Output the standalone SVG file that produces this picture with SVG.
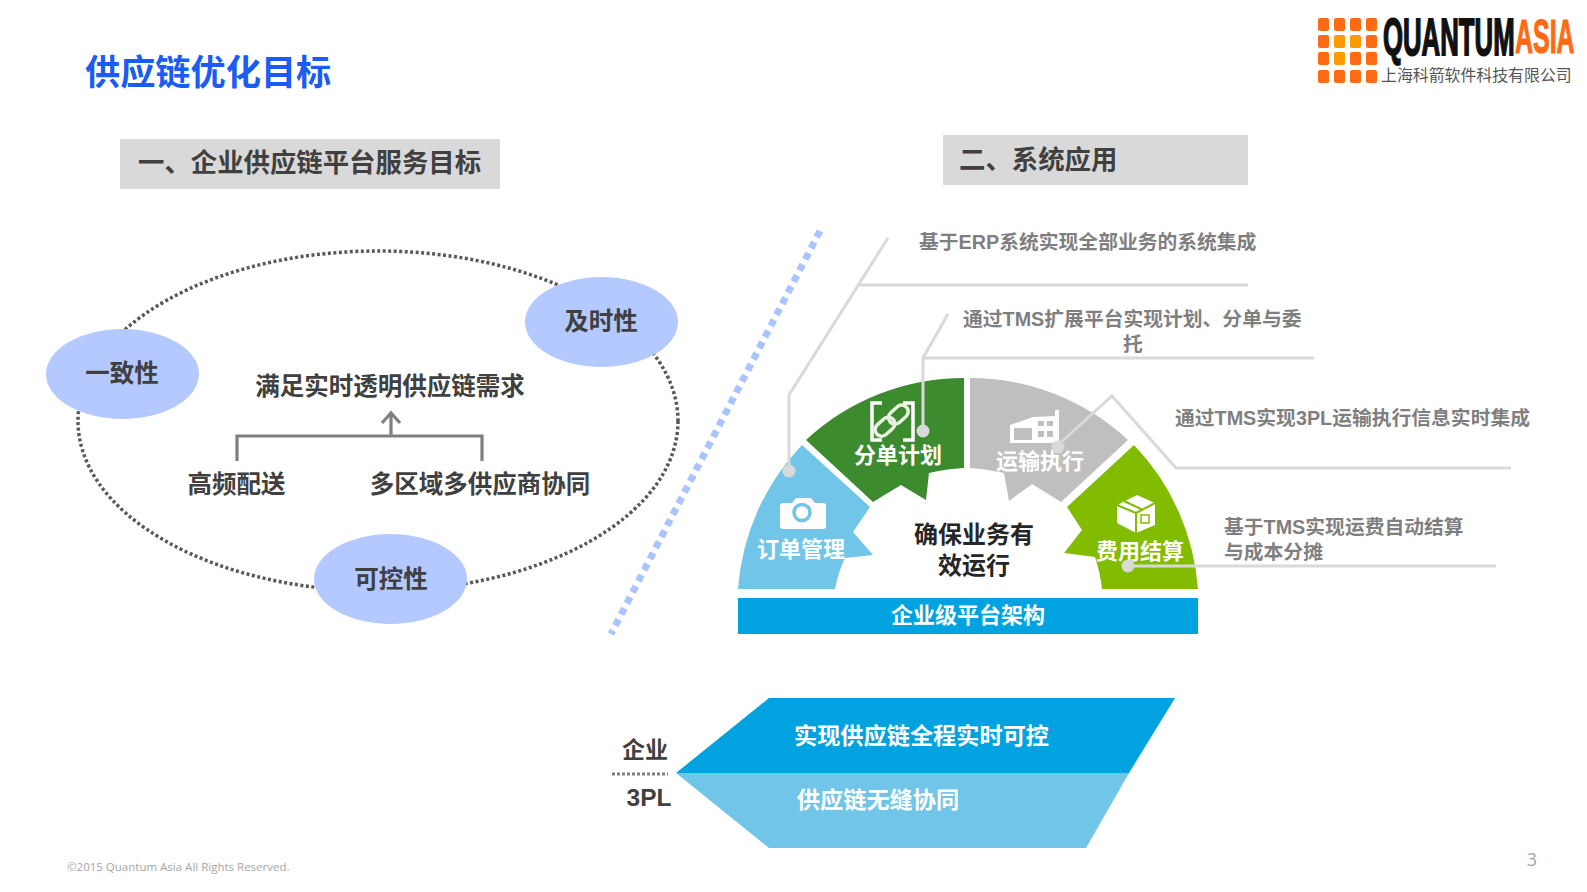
<svg xmlns="http://www.w3.org/2000/svg" width="1587" height="892" viewBox="0 0 1587 892">
<style>
text{font-family:"Liberation Sans","Noto Sans CJK SC",sans-serif;font-weight:700}
.m{text-anchor:middle}
.d{fill:#404040;font-size:24.500px}
.w{fill:#fff;font-size:22px;text-anchor:middle}
.g{fill:#7f7f7f;font-size:19.800px}
.o{fill:#b3c9ff}
.h{fill:#d9d9d9}
.l{fill:none;stroke:#d9d9d9;stroke-width:3}
.dot{fill:#d9d9d9}
.q{fill:#ff6a13}
.y{fill:#ff9a00}
</style>
<rect width="1587" height="892" fill="#fff"/>
<text x="85" y="85" fill="#1a5cf5" style="font-size:35.2px">供应链优化目标</text>
<g id="logo">
<g class="q">
<rect x="1318" y="18" width="11" height="13" rx="2"/><rect x="1334" y="18" width="11" height="13" rx="2"/><rect x="1350" y="18" width="11" height="13" rx="2"/><rect x="1366" y="18" width="11" height="13" rx="2"/>
<rect x="1318" y="35" width="11" height="13" rx="2"/><rect x="1366" y="35" width="11" height="13" rx="2"/>
<rect x="1318" y="52" width="11" height="13" rx="2"/><rect x="1350" y="52" width="11" height="13" rx="2"/><rect x="1366" y="52" width="11" height="13" rx="2"/>
<rect x="1318" y="70" width="11" height="13" rx="2"/><rect x="1334" y="70" width="11" height="13" rx="2"/><rect x="1350" y="70" width="11" height="13" rx="2"/><rect x="1366" y="70" width="11" height="13" rx="2"/>
</g>
<g class="y"><rect x="1334" y="35" width="11" height="13" rx="2"/><rect x="1350" y="35" width="11" height="13" rx="2"/><rect x="1334" y="52" width="11" height="13" rx="2"/></g>
<text transform="translate(1383 55) scale(.505 1)" fill="#111" stroke="#111" stroke-width="1.800" style="font-size:51px">QUANTUM</text>
<text transform="translate(1515 53) scale(.52 1)" fill="#ff6a13" stroke="#ff6a13" stroke-width="1.200" style="font-size:48px">ASIA</text>
<text x="1381" y="81" fill="#555" style="font-weight:400;font-size:15.900px">上海科箭软件科技有限公司</text>
</g>
<g id="header1"><rect class="h" x="120" y="139" width="380" height="50"/><text x="138" y="172" fill="#404040" style="font-size:26.400px">一、企业供应链平台服务目标</text></g>
<g id="header2"><rect class="h" x="943" y="135" width="305" height="50"/><text x="959" y="169" fill="#404040" style="font-size:26.400px">二、系统应用</text></g>

<g id="connectors">
<ellipse cx="378" cy="421" rx="300" ry="170" fill="none" stroke="#595959" stroke-width="3.500" stroke-dasharray="3 2.500"/>
<path d="M237 461V436H482V461M391 436V413M382 423L391 413L400 423" fill="none" stroke="#7f7f7f" stroke-width="3.200"/>
<path d="M820 231L611 634" fill="none" stroke="#a9c4ff" stroke-width="7" stroke-dasharray="7 5.500"/>
<path d="M612 774H668" fill="none" stroke="#7f7f7f" stroke-width="3" stroke-dasharray="3 2"/>
</g>

<g id="node-consistency"><ellipse class="o" cx="122.500" cy="374" rx="76.500" ry="45"/><text class="d m" x="122" y="382">一致性</text></g>
<g id="node-timely"><ellipse class="o" cx="601.500" cy="322" rx="76.500" ry="45"/><text class="d m" x="601" y="330">及时性</text></g>
<g id="node-control"><ellipse class="o" cx="390.500" cy="579" rx="76.500" ry="45"/><text class="d m" x="391" y="588">可控性</text></g>
<text class="d m" x="390" y="394.500">满足实时透明供应链需求</text>
<text class="d m" x="236.500" y="493">高频配送</text>
<text class="d m" x="480" y="493">多区域多供应商协同</text>

<g id="seg-order"><path d="M738 589A232 232 0 0 1 802 445L870 507L853 532L873 555L845 558A125 125 0 0 0 835 589Z" fill="#70c5e8"/>
<path d="M783 503h9l4-5h15l4 5h8a3 3 0 0 1 3 3v20a3 3 0 0 1-3 3h-40a3 3 0 0 1-3-3v-20a3 3 0 0 1 3-3z" fill="#fff"/><circle cx="802" cy="512.500" r="8" fill="none" stroke="#70c5e8" stroke-width="3.500"/>
<text class="w" x="801" y="557">订单管理</text></g>
<g id="seg-plan"><path d="M806 440A232 232 0 0 1 964 378V468Q945 469 929 473L926 500L901 485L873 502Z" fill="#3d8b2f"/>
<path d="M882 403H872V440H882M903 403H913V440H903" fill="none" stroke="#fff" stroke-width="3.500"/>
<g fill="none" stroke="#e8f2e0" stroke-width="3.500" transform="rotate(-42 892 421)"><rect x="872" y="414" width="22" height="13" rx="6.500"/><rect x="890" y="414" width="22" height="13" rx="6.500"/></g>
<text class="w" x="898" y="463">分单计划</text></g>
<g id="seg-transport"><path d="M970 378A232 232 0 0 1 1128 440L1061 502L1032 484L1009 501L1004 473Q985 469 970 468Z" fill="#bfbfbf"/>
<path d="M1010 443V425L1033 417L1055 416V410H1059V443Z" fill="#fff"/><rect x="1014" y="428" width="18" height="12" fill="#bfbfbf"/><path d="M1038 421h6v5h-6zM1047 421h6v5h-6zM1038 431h6v6h-6zM1047 431h6v6h-6z" fill="#bfbfbf"/>
<text class="w" x="1040" y="469">运输执行</text></g>
<g id="seg-cost"><path d="M1134 445A232 232 0 0 1 1198 589H1102Q1100 572 1095 557L1064 553L1082 530L1067 507Z" fill="#82bc00"/>
<path d="M1117 505L1137 495L1155 503V525L1136 533L1117 523Z" fill="#fff"/><path d="M1117 505L1136 513V533M1136 513L1155 503M1124 501L1143 510" fill="none" stroke="#82bc00" stroke-width="2"/><rect x="1141" y="515" width="8" height="8" fill="none" stroke="#82bc00" stroke-width="1.500"/>
<text class="w" x="1140" y="559">费用结算</text></g>
<g id="center"><text x="974" y="543" class="m" fill="#262626" style="font-size:24px">确保业务有</text><text x="974" y="574" class="m" fill="#262626" style="font-size:24px">效运行</text></g>
<g id="platform"><rect x="738" y="598" width="460" height="36" fill="#00a3e0"/><text class="w" x="968" y="623">企业级平台架构</text></g>

<g id="callouts">
<path class="l" d="M789 471V395L888 238M858 285H1248"/>
<path class="l" d="M923 431V358L948 314M923 358H1314"/>
<path class="l" d="M1058 445L1112 396L1176 468H1511"/>
<path class="l" d="M1128 566H1496"/>
<circle class="dot" cx="789" cy="471" r="6.500"/><circle class="dot" cx="923" cy="431" r="6.500"/><circle class="dot" cx="1058" cy="447" r="6.500"/><circle class="dot" cx="1128" cy="566" r="6.500"/>
</g>
<text class="g" x="919" y="249">基于ERP系统实现全部业务的系统集成</text>
<text class="g" x="963" y="325.500">通过TMS扩展平台实现计划、分单与委</text>
<text class="g m" x="1133" y="350.500">托</text>
<text class="g" x="1175" y="424.500">通过TMS实现3PL运输执行信息实时集成</text>
<text class="g" x="1224" y="533.500">基于TMS实现运费自动结算</text>
<text class="g" x="1224" y="558.500">与成本分摊</text>

<g id="chevrons">
<path d="M769 698H1175L1129 773H676Z" fill="#00a3e0"/>
<path d="M676 773H1129L1086 848H769Z" fill="#70c5e8"/>
<text class="w" x="921.500" y="744" style="font-size:23.200px">实现供应链全程实时可控</text>
<text class="w" x="878" y="808" style="font-size:23.200px">供应链无缝协同</text>
</g>
<text class="d m" x="645" y="758" style="font-size:23px">企业</text>
<text class="d m" x="649" y="806">3PL</text>
<text x="67" y="871" fill="#a6a6a6" style="font-family:'Open Sans',sans-serif;font-weight:400;font-size:11.500px">©2015 Quantum Asia All Rights Reserved.</text>
<text x="1532" y="866" fill="#a6a6a6" class="m" style="font-family:'Open Sans',sans-serif;font-weight:400;font-size:18px">3</text>
</svg>
